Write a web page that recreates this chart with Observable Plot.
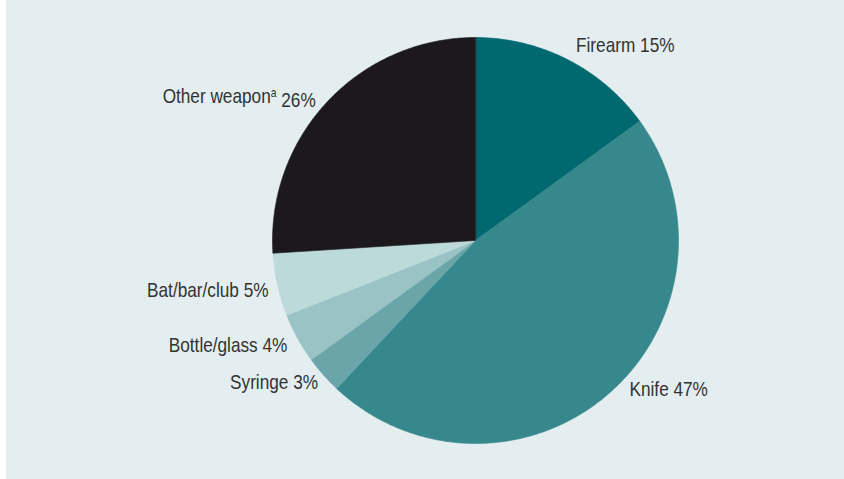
<!DOCTYPE html>
<html>
<head>
<meta charset="utf-8">
<script src="https://cdn.jsdelivr.net/npm/d3@7"></script>
<script src="https://cdn.jsdelivr.net/npm/@observablehq/plot@0.6"></script>
<style>
  html, body { margin: 0; padding: 0; background: #ffffff; }
  #chart { width: 844px; height: 479px; background: linear-gradient(to right, #ffffff 6px, #e4eef0 6px); overflow: hidden; }
  #chart svg { display: block; background: transparent; }
</style>
</head>
<body>
<div id="chart"></div>
<script>
// ---- data ----
const categories = ["Firearm", "Knife", "Syringe", "Bottle/glass", "Bat/bar/club", "Other weapon"];
const shares = [15, 47, 3, 4, 5, 26];
const notes = ["", "", "", "", "", "a"];

// ---- styles ----
const colors = ["#006970", "#37888d", "#6aa6a9", "#9ac3c6", "#bddadb", "#1c191d"];
const R = 203, CX = 475, CY = 240, W = 844, H = 479;
const labelR = 1.08;
const narrow = 0.82; // emulate a narrow sans face
const nudges = {
  "Firearm": [1, 0],
  "Knife": [9, -16],
  "Syringe": [7, -3],
  "Bottle/glass": [4, -1],
  "Bat/bar/club": [7, 2],
  "Other weapon": [0, 6]
};

// ---- geometry: slices clockwise from 12 o'clock ----
const total = d3.sum(shares);
const slices = [];
let acc = 0;
categories.forEach((name, i) => {
  const a0 = acc / total * 2 * Math.PI;
  acc += shares[i];
  const a1 = acc / total * 2 * Math.PI;
  slices.push({name, value: shares[i], note: notes[i], a0, a1, mid: (a0 + a1) / 2});
});

const polyPts = [];
slices.forEach(s => {
  polyPts.push({name: s.name, x: 0, y: 0});
  const n = Math.max(2, Math.ceil((s.a1 - s.a0) / (Math.PI / 360)));
  for (let k = 0; k <= n; k++) {
    const a = s.a0 + (s.a1 - s.a0) * k / n;
    polyPts.push({name: s.name, x: Math.sin(a), y: Math.cos(a)});
  }
});

const labelMarks = slices.map(s => {
  const right = Math.sin(s.mid) >= 0;
  const [dx, dy] = nudges[s.name] || [0, 0];
  return Plot.text([s], {
    x: d => labelR * Math.sin(d.mid),
    y: d => labelR * Math.cos(d.mid),
    text: d => d.note ? `${d.name}\u0001${d.note}\u0001 ${d.value}%` : `${d.name} ${d.value}%`,
    textAnchor: right ? "start" : "end",
    dx, dy,
    fill: "#333333",
    fontSize: 21
  });
});

const plot = Plot.plot({
  width: W,
  height: H,
  margin: 0,
  style: {background: "transparent", fontFamily: "'Liberation Sans', Arial, sans-serif"},
  x: {domain: [-CX / R, (W - CX) / R], axis: null},
  y: {domain: [-(H - CY) / R, CY / R], axis: null},
  color: {type: "ordinal", domain: categories, range: colors},
  marks: [
    Plot.line(polyPts, {x: "x", y: "y", z: "name", fill: "name", stroke: "name", strokeWidth: 0.6, curve: "linear-closed"}),
    ...labelMarks
  ]
});

// superscript footnote marker + narrow text
d3.select(plot).selectAll("text").each(function() {
  const t = this.textContent;
  const sel = d3.select(this);
  if (t.includes("\u0001")) {
    const [a, b, c] = t.split("\u0001");
    sel.text(null);
    sel.append("tspan").text(a);
    sel.append("tspan").attr("dy", "-0.45em").attr("font-size", "0.6em").text(b);
    sel.append("tspan").attr("dy", "0.45em").text(c);
  }
  const tr = sel.attr("transform") || "";
  sel.attr("transform", `${tr} scale(${narrow},1)`);
});

document.getElementById("chart").appendChild(plot);
</script>
</body>
</html>
